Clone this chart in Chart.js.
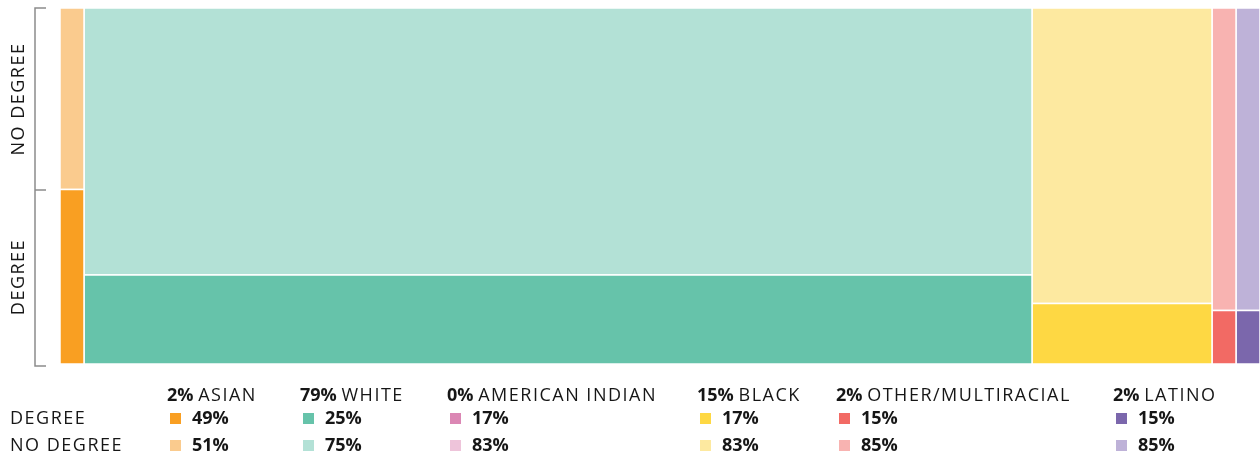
<!DOCTYPE html>
<html>
<head>
<meta charset="utf-8">
<script src="https://cdn.jsdelivr.net/npm/chart.js@4/dist/chart.umd.min.js"></script>
<style>
  html,body{margin:0;padding:0;background:#fff;}
  body{font-family:'Open Sans',sans-serif;color:#161616;}
  #wrap{position:relative;width:1260px;height:456px;overflow:hidden;}
  #chart{position:absolute;left:0;top:0;}
  .row{position:absolute;left:0;height:24px;line-height:24px;font-size:18px;white-space:nowrap;width:1260px;}
  .rowlab{position:absolute;left:10px;letter-spacing:1.5px;}
  .cell{position:absolute;top:0;}
  .hdr b{font-weight:700;letter-spacing:0;}
  .hdr span{letter-spacing:1.5px;}
  .sw{display:inline-block;width:11px;height:11px;margin-left:3px;margin-right:11px;vertical-align:baseline;margin-bottom:0px;}
  .val{font-weight:700;}
</style>
</head>
<body>
<div id="wrap">
  <canvas id="chart" width="1260" height="456"></canvas>
  <div id="legend"></div>
</div>
<script>
// ---- data ----
const categories = ['ASIAN', 'WHITE', 'AMERICAN INDIAN', 'BLACK', 'OTHER/MULTIRACIAL', 'LATINO'];
const populationShare = [2, 79, 0, 15, 2, 2];
const degreeShare = [49, 25, 17, 17, 15, 15];
const noDegreeShare = [51, 75, 83, 83, 85, 85];
const rowLabels = ['DEGREE', 'NO DEGREE'];
const degreeColors = ['#F99F22', '#66C3AA', '#DB87B4', '#FED843', '#F26A64', '#7B67AC'];
const noDegreeColors = ['#FACB8E', '#B3E1D6', '#EEC4DA', '#FDE9A0', '#F8B3B1', '#BEB2D8'];

// ---- layout (not data) ----
const legendColumnLeft = [167, 300, 447, 697, 836, 1113];
const legendRowTop = [382, 405, 432];

// build mosaic rectangles as closed line shapes on linear scales
const datasets = [];
let cum = 0;
categories.forEach((c, i) => {
  const x0 = cum, x1 = cum + populationShare[i];
  cum = x1;
  const rect = (y0, y1, color, label) => ({
    label: label,
    data: [{x: x0, y: y0}, {x: x1, y: y0}, {x: x1, y: y1}, {x: x0, y: y1}, {x: x0, y: y0}],
    showLine: true,
    fill: 'shape',
    backgroundColor: color,
    borderColor: '#ffffff',
    borderWidth: 1.5,
    pointRadius: 0,
    pointHoverRadius: 0,
    tension: 0
  });
  if (populationShare[i] > 0) {
    datasets.push(rect(0, degreeShare[i], degreeColors[i], c + ' ' + rowLabels[0]));
    datasets.push(rect(degreeShare[i], degreeShare[i] + noDegreeShare[i], noDegreeColors[i], c + ' ' + rowLabels[1]));
  }
});

const bracketPlugin = {
  id: 'bracket',
  afterDraw(chart) {
    const {ctx, chartArea} = chart;
    const y = chart.scales.y;
    const x = chartArea.left - 25;
    const yTop = y.getPixelForValue(100);
    const yMid = y.getPixelForValue(degreeShare[0]) + 0.5;
    const yBot = y.getPixelForValue(0) + 2;
    ctx.save();
    ctx.strokeStyle = '#8c8c8c';
    ctx.lineWidth = 1.5;
    ctx.beginPath();
    ctx.moveTo(x + 11, yTop); ctx.lineTo(x, yTop); ctx.lineTo(x, yBot); ctx.lineTo(x + 11, yBot);
    ctx.moveTo(x, yMid); ctx.lineTo(x + 11, yMid);
    ctx.stroke();
    ctx.fillStyle = '#161616';
    ctx.font = '18px "Open Sans"';
    ctx.textAlign = 'center';
    ctx.textBaseline = 'middle';
    try { ctx.letterSpacing = '1.5px'; } catch (e) {}
    const drawRot = (text, cy) => {
      ctx.save();
      ctx.translate(18, cy);
      ctx.rotate(-Math.PI / 2);
      ctx.fillText(text, 0, 1);
      ctx.restore();
    };
    drawRot(rowLabels[1], (yTop + yMid) / 2);
    drawRot(rowLabels[0], (yMid + y.getPixelForValue(0)) / 2);
    ctx.restore();
  }
};

new Chart(document.getElementById('chart'), {
  type: 'scatter',
  data: {datasets},
  options: {
    responsive: false,
    animation: false,
    devicePixelRatio: 1,
    layout: {padding: {left: 60, right: 0, top: 8, bottom: 92}},
    scales: {
      x: {type: 'linear', min: 0, max: 100, display: false},
      y: {type: 'linear', min: 0, max: 100, display: false}
    },
    plugins: {legend: {display: false}, tooltip: {enabled: false}},
    events: []
  },
  plugins: [bracketPlugin]
});

// legend table (HTML text)
const legend = document.getElementById('legend');
const hdr = document.createElement('div');
hdr.className = 'row hdr';
hdr.style.top = legendRowTop[0] + 'px';
categories.forEach((c, i) => {
  const d = document.createElement('div');
  d.className = 'cell';
  d.style.left = legendColumnLeft[i] + 'px';
  d.innerHTML = '<b>' + populationShare[i] + '%</b> <span>' + c + '</span>';
  hdr.appendChild(d);
});
legend.appendChild(hdr);
[[degreeShare, degreeColors], [noDegreeShare, noDegreeColors]].forEach(([vals, cols], r) => {
  const row = document.createElement('div');
  row.className = 'row';
  row.style.top = legendRowTop[r + 1] + 'px';
  const lab = document.createElement('div');
  lab.className = 'rowlab';
  lab.textContent = rowLabels[r];
  row.appendChild(lab);
  vals.forEach((v, i) => {
    const d = document.createElement('div');
    d.className = 'cell';
    d.style.left = legendColumnLeft[i] + 'px';
    d.innerHTML = '<i class="sw" style="background:' + cols[i] + '"></i><span class="val">' + v + '%</span>';
    row.appendChild(d);
  });
  legend.appendChild(row);
});
</script>
</body>
</html>
